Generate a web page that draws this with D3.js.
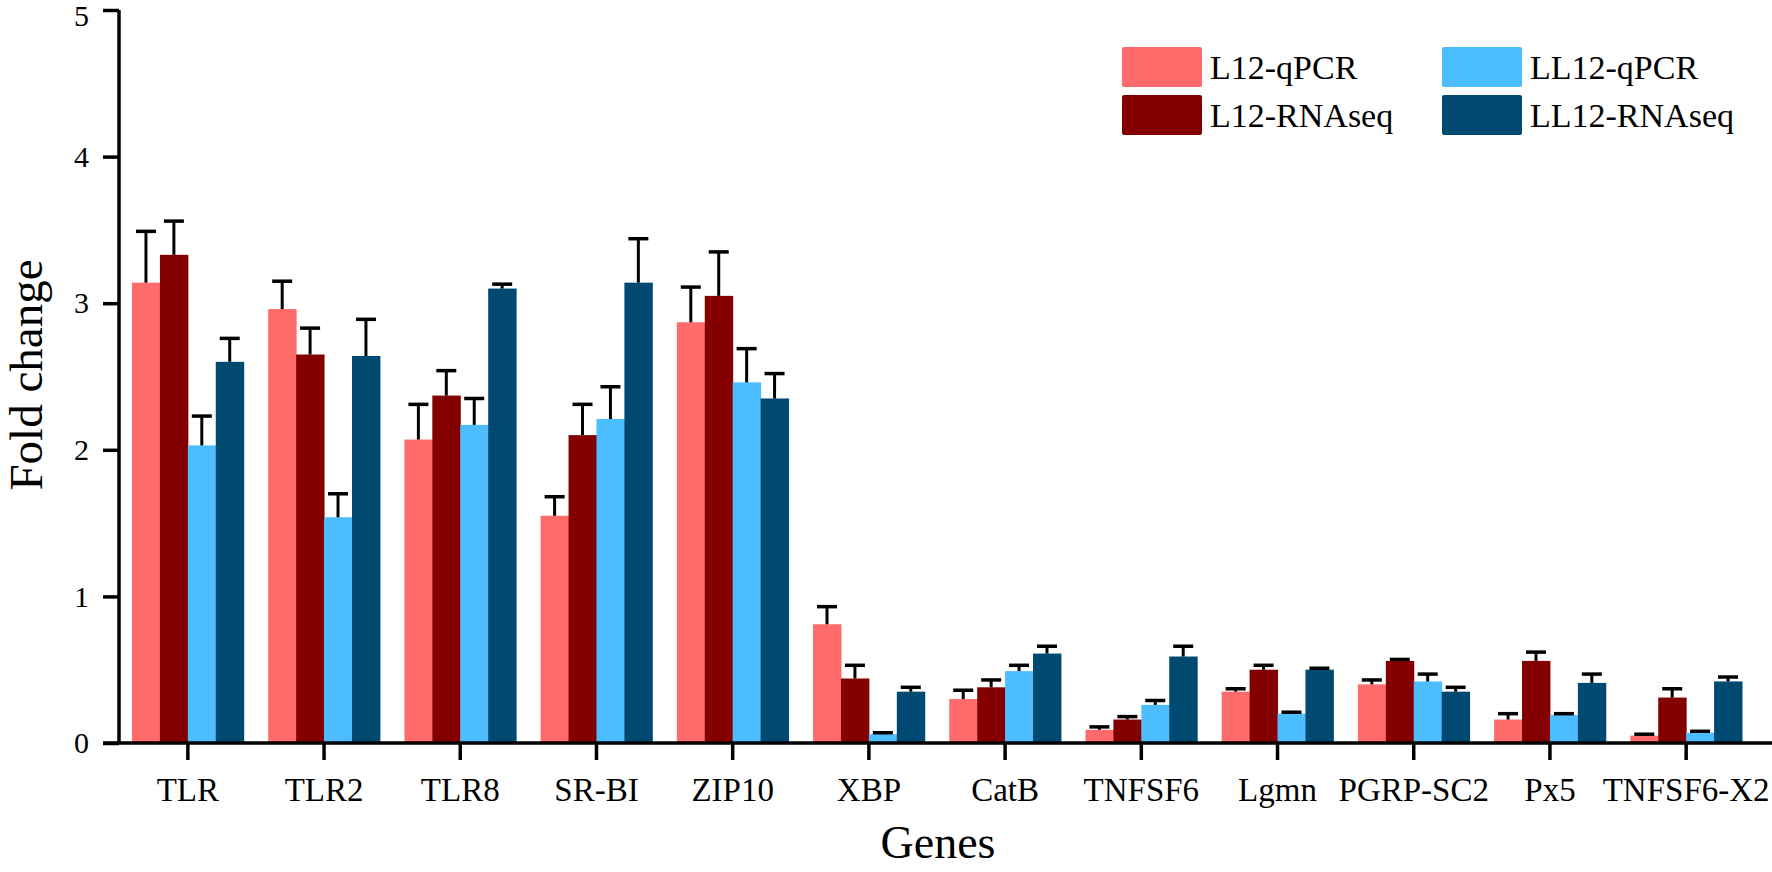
<!DOCTYPE html>
<html>
<head>
<meta charset="utf-8">
<script src="https://cdn.jsdelivr.net/npm/d3@7"></script>
<style>
  body { margin: 0; background: #fff; }
  svg { display: block; font-family: "Liberation Serif", "Times New Roman", serif; }
</style>
</head>
<body>
<div id="chart"></div>
<script>
var genes = ["TLR", "TLR2", "TLR8", "SR-BI", "ZIP10", "XBP", "CatB", "TNFSF6", "Lgmn", "PGRP-SC2", "Px5", "TNFSF6-X2"];
var seriesNames = ["L12-qPCR", "L12-RNAseq", "LL12-qPCR", "LL12-RNAseq"];
var seriesColors = ["#ff6b6b", "#840000", "#4cbdff", "#004a72"];

// mean fold change per gene
var l12qpcr = [3.14, 2.96, 2.07, 1.55, 2.87, 0.81, 0.30, 0.09, 0.35, 0.40, 0.16, 0.05];
var l12rnaseq = [3.33, 2.65, 2.37, 2.10, 3.05, 0.44, 0.38, 0.16, 0.50, 0.56, 0.56, 0.31];
var ll12qpcr = [2.03, 1.54, 2.17, 2.21, 2.46, 0.06, 0.49, 0.26, 0.20, 0.42, 0.19, 0.07];
var ll12rnaseq = [2.60, 2.64, 3.10, 3.14, 2.35, 0.35, 0.61, 0.59, 0.50, 0.35, 0.41, 0.42];

// error bar (upper) length
var l12qpcrErr = [0.35, 0.19, 0.24, 0.13, 0.24, 0.12, 0.06, 0.02, 0.02, 0.03, 0.04, 0.01];
var l12rnaseqErr = [0.23, 0.18, 0.17, 0.21, 0.30, 0.09, 0.05, 0.02, 0.03, 0.01, 0.06, 0.06];
var ll12qpcrErr = [0.20, 0.16, 0.18, 0.22, 0.23, 0.01, 0.04, 0.03, 0.01, 0.05, 0.01, 0.01];
var ll12rnaseqErr = [0.16, 0.25, 0.03, 0.30, 0.17, 0.03, 0.05, 0.07, 0.01, 0.03, 0.06, 0.03];

var yTicks = [0, 1, 2, 3, 4, 5];

var values = [l12qpcr, l12rnaseq, ll12qpcr, ll12rnaseq];
var errors = [l12qpcrErr, l12rnaseqErr, ll12qpcrErr, ll12rnaseqErr];

var width = 1772, height = 872;

var svg = d3.select("#chart")
  .append("svg")
  .attr("width", width)
  .attr("height", height);

var x = d3.scaleBand()
  .domain(genes)
  .range([132, 1742])
  .paddingInner(0.18)
  .paddingOuter(0);

var xSub = d3.scaleBand()
  .domain(seriesNames)
  .range([0, x.bandwidth()]);

var y = d3.scaleLinear()
  .domain([0, 5])
  .range([743, 10]);

// build flat records for bars
var records = [];
genes.forEach(function(g, i) {
  seriesNames.forEach(function(s, j) {
    records.push({ gene: g, series: s, idx: j, value: values[j][i], err: errors[j][i] });
  });
});

// bars
svg.append("g")
  .selectAll("rect")
  .data(records)
  .enter()
  .append("rect")
  .attr("x", function(d) { return x(d.gene) + xSub(d.series); })
  .attr("y", function(d) { return y(d.value); })
  .attr("width", xSub.bandwidth() + 0.5)
  .attr("height", function(d) { return y(0) - y(d.value); })
  .attr("fill", function(d) { return seriesColors[d.idx]; });

// error bars
var eb = svg.append("g")
  .attr("stroke", "#000")
  .selectAll("g")
  .data(records)
  .enter()
  .append("g")
  .attr("transform", function(d) {
    return "translate(" + (x(d.gene) + xSub(d.series) + xSub.bandwidth() / 2) + ",0)";
  });
eb.append("line")
  .attr("x1", 0).attr("x2", 0)
  .attr("y1", function(d) { return y(d.value); })
  .attr("y2", function(d) { return y(d.value + d.err); })
  .attr("stroke-width", 3);
eb.append("line")
  .attr("x1", -10).attr("x2", 10)
  .attr("y1", function(d) { return y(d.value + d.err); })
  .attr("y2", function(d) { return y(d.value + d.err); })
  .attr("stroke-width", 3.5);

// y axis
var yAxis = svg.append("g")
  .attr("transform", "translate(119,0)")
  .call(d3.axisLeft(y).tickValues(yTicks).tickFormat(d3.format("d")).tickSize(16).tickPadding(14));
yAxis.select(".domain").attr("stroke-width", 3.5).attr("d", "M0," + y(5) + "V" + y(0));
yAxis.selectAll(".tick line").attr("stroke-width", 3.5);
yAxis.selectAll(".tick text")
  .attr("font-size", 30)
  .attr("font-family", "Liberation Serif")
  .attr("fill", "#000")
  .attr("dy", function(d) { return d === 5 ? "0.5em" : "0.32em"; });

// x axis
var xAxis = svg.append("g")
  .attr("transform", "translate(0," + y(0) + ")")
  .call(d3.axisBottom(x).tickSize(17).tickPadding(18));
xAxis.select(".domain").attr("stroke-width", 3.5).attr("d", "M103,0H1772");
xAxis.selectAll(".tick line").attr("stroke-width", 3.5);
xAxis.selectAll(".tick text")
  .attr("font-size", 33)
  .attr("font-family", "Liberation Serif")
  .attr("fill", "#000");

// axis titles
svg.append("text")
  .attr("transform", "translate(42,375) rotate(-90)")
  .attr("text-anchor", "middle")
  .attr("font-size", 47)
  .text("Fold change");

svg.append("text")
  .attr("x", 938)
  .attr("y", 858)
  .attr("text-anchor", "middle")
  .attr("font-size", 46)
  .text("Genes");

// legend
var legendPos = [[1122, 47], [1122, 95], [1442, 47], [1442, 95]];
var legend = svg.append("g")
  .selectAll("g")
  .data(seriesNames)
  .enter()
  .append("g")
  .attr("transform", function(d, i) { return "translate(" + legendPos[i][0] + "," + legendPos[i][1] + ")"; });
legend.append("rect")
  .attr("width", 80)
  .attr("height", 40)
  .attr("rx", 2)
  .attr("fill", function(d, i) { return seriesColors[i]; });
legend.append("text")
  .attr("x", 88)
  .attr("y", 32)
  .attr("font-size", 34)
  .text(function(d) { return d; });
</script>
</body>
</html>
